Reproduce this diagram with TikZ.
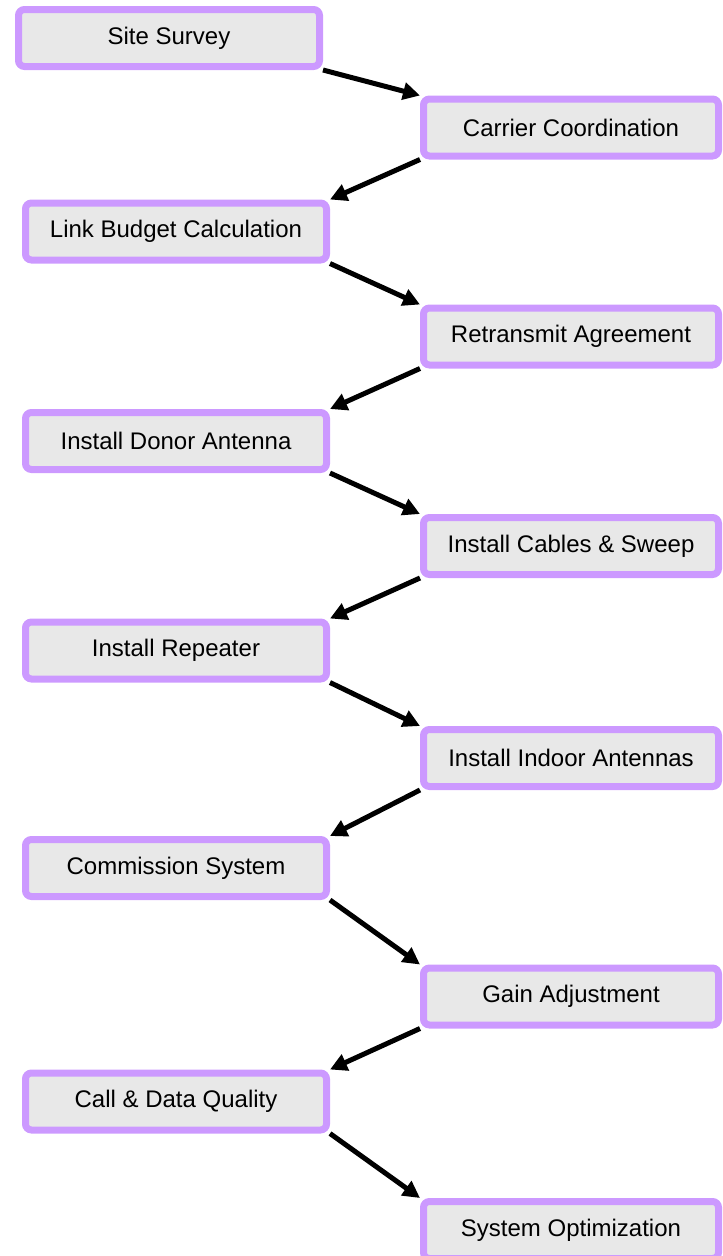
\documentclass[tikz,border=0pt]{standalone}
\usepackage{fontspec}
\setmainfont{Liberation Sans}
\usetikzlibrary{arrows.meta}
\definecolor{boxline}{RGB}{204,153,255}
\definecolor{boxfill}{RGB}{232,232,232}
\tikzset{
  stepbox/.style={draw=boxline,fill=boxfill,line width=7pt,rounded corners=6pt,
    minimum height=57pt,inner sep=0pt,font=\fontsize{24}{28}\selectfont},
  flow/.style={->,line width=5pt,>={Triangle[length=17pt,width=17pt]}}
}
\begin{document}
\begin{tikzpicture}[x=1pt,y=-1pt]
\useasboundingbox (0,0) rectangle (723,1256);
\def \l{176}
\def \r{571}
\def \wl{301}
\def \wr{295}

\node[stepbox,minimum width=\wl] (s1) at (169,38) {Site Survey};
\node[stepbox,minimum width=\wr] (s2) at (\r,127.5) {Carrier Coordination};
\node[stepbox,minimum width=\wl] (s3) at (\l,231.5) {Link Budget Calculation};
\node[stepbox,minimum width=\wr] (s4) at (\r,336.5) {Retransmit Agreement};
\node[stepbox,minimum width=\wl] (s5) at (\l,441) {Install Donor Antenna};
\node[stepbox,minimum width=\wr] (s6) at (\r,546) {Install Cables \& Sweep};
\node[stepbox,minimum width=\wl] (s7) at (\l,650.5) {Install Repeater};
\node[stepbox,minimum width=\wr] (s8) at (\r,758) {Install Indoor Antennas};
\node[stepbox,minimum width=\wl] (s9) at (\l,868) {Commission System};
\node[stepbox,minimum width=\wr] (s10) at (\r,996.5) {Gain Adjustment};
\node[stepbox,minimum width=\wl] (s11) at (\l,1101.5) {Call \& Data Quality};
\node[stepbox,minimum width=\wr] (s12) at (\r,1230) {System Optimization};

% left to right
\foreach \a/\b in {s1/s2,s3/s4,s5/s6,s7/s8,s9/s10,s11/s12}{
\draw[flow] (\a.south east)--(\b.north west);
}
% right to left
\foreach \a/\b in {s2/s3,s4/s5,s6/s7,s8/s9,s10/s11}{
\draw[flow] (\a.south west)--(\b.north east);
}
\end{tikzpicture}
\end{document}
